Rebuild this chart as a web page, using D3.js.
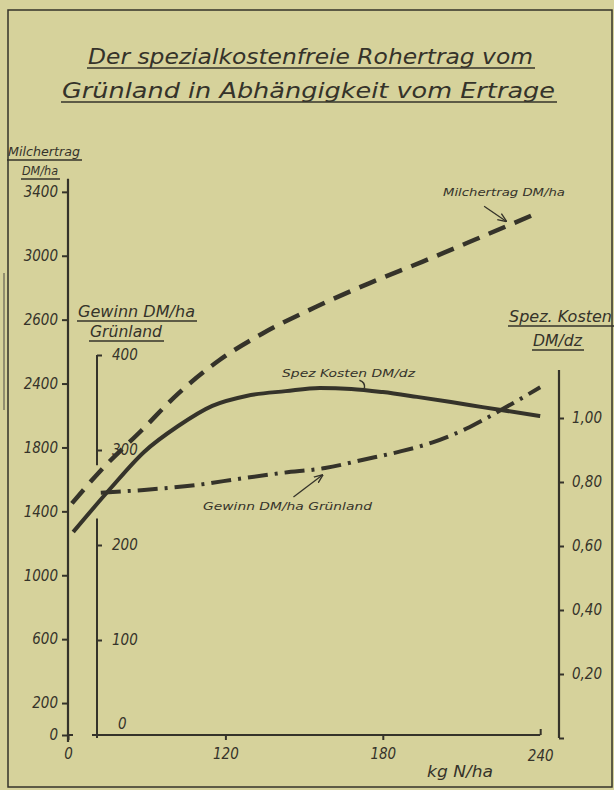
<!DOCTYPE html>
<html>
<head>
<meta charset="utf-8">
<script src="https://cdn.jsdelivr.net/npm/d3@7"></script>
<style>
  body { margin: 0; background: #d6d29b; }
  svg text { font-family: "DejaVu Sans Condensed", "DejaVu Sans", sans-serif; font-style: italic; fill: #35332a; }
</style>
</head>
<body>
<script>
// Axis tick labels as printed on the original (spaced evenly on the sheet)
const nTicks = [0, 120, 180, 240];
const milchTicks = [0, 200, 600, 1000, 1400, 1800, 2400, 2600, 3000, 3400];
const gewinnTicks = [100, 200, 300, 400];
const kostenTicks = [0, 0.2, 0.4, 0.6, 0.8, 1.0];

// Milchertrag DM/ha (dashed, left axis)
const milchN = [3, 25, 56, 84, 115, 134, 154, 175, 195, 215, 240];
const milchValues = [1450, 1656, 1959, 2306, 2472, 2556, 2676, 2829, 2962, 3100, 3275];

// Spez. Kosten DM/dz (solid, right axis)
const kostenN = [4, 32, 58, 84, 110, 128, 143, 156, 168, 180, 193, 206, 218, 240];
const kostenValues = [0.644, 0.778, 0.894, 0.975, 1.038, 1.069, 1.084, 1.094, 1.091, 1.081, 1.066, 1.05, 1.034, 1.006];

// Gewinn DM/ha Grünland (dash-dot, middle axis)
const gewinnN = [25, 58, 97, 126, 142, 158, 173, 186, 199, 213, 225, 240];
const gewinnValues = [255, 258, 263, 270, 276, 281, 290, 298, 308, 324, 342, 366];

const ink = "#35332a";
const W = 614, H = 790;

const svg = d3.select("body").append("svg")
  .attr("width", W)
  .attr("height", H);

// Scales (the printed axes are evenly spaced, so piecewise linear)
const x0 = 68, xStep = 157.4, yBase = 735, yStep = 63.9;
const x = d3.scaleLinear()
  .domain(nTicks)
  .range(nTicks.map((d, i) => x0 + i * xStep));
const yMilch = d3.scaleLinear()
  .domain(milchTicks)
  .range(milchTicks.map((d, i) => yBase - (i === 0 ? 0 : i - 0.5) * yStep));
const yGewinn = d3.scaleLinear().domain([0, 400]).range([yBase, 355]);
const yKosten = d3.scaleLinear().domain([0, 1]).range([738, 418]);

// Frame
svg.append("rect")
  .attr("x", 8).attr("y", 10)
  .attr("width", 604).attr("height", 777)
  .attr("fill", "none").attr("stroke", ink).attr("stroke-width", 1.5);
svg.append("line")
  .attr("x1", 4).attr("x2", 4).attr("y1", 273).attr("y2", 410)
  .attr("stroke", "#7a7760").attr("stroke-width", 1.5);

// Underlined text helper
function label(txt, xPos, yPos, width, size, underline) {
  svg.append("text")
    .attr("x", xPos).attr("y", yPos)
    .attr("font-size", size)
    .attr("textLength", width)
    .attr("lengthAdjust", "spacingAndGlyphs")
    .text(txt);
  if (underline) {
    svg.append("line")
      .attr("x1", xPos - 1).attr("x2", xPos + width + 2)
      .attr("y1", yPos + 4).attr("y2", yPos + 4)
      .attr("stroke", ink).attr("stroke-width", 1.5);
  }
}

// Title
label("Der spezialkostenfreie Rohertrag vom", 88, 64, 445, 22, true);
label("Grünland   in  Abhängigkeit   vom   Ertrage", 62, 98, 493, 22, true);

// Axis titles
label("Milchertrag", 8, 156, 72, 13, true);
label("DM/ha", 22, 175, 36, 13, true);
label("Gewinn DM/ha", 78, 317, 117, 15, true);
label("Grünland", 90, 337, 72, 15, true);
label("Spez. Kosten", 509, 322, 103, 15, true);
label("DM/dz", 533, 346, 49, 15, true);
label("kg N/ha", 427, 777, 66, 15, false);

// Axes
function styleAxis(g, size) {
  g.selectAll(".tick line").attr("stroke", ink).attr("stroke-width", 2);
  g.selectAll(".tick text").attr("font-size", size).attr("fill", ink);
  g.select(".domain").remove();
}

const gLeft = svg.append("g")
  .attr("transform", `translate(${x0},0)`)
  .call(d3.axisLeft(yMilch).tickValues(milchTicks).tickSize(6).tickPadding(4)
    .tickFormat(d3.format("d")));
styleAxis(gLeft, 15);
gLeft.append("line")
  .attr("y1", yMilch(3400) - 13).attr("y2", yBase + 7)
  .attr("stroke", ink).attr("stroke-width", 2.2);
gLeft.append("line")
  .attr("x1", 0).attr("x2", 5).attr("y1", yBase).attr("y2", yBase)
  .attr("stroke", ink).attr("stroke-width", 2);

const midX = 97;
const gMid = svg.append("g")
  .attr("transform", `translate(${midX},0)`)
  .call(d3.axisRight(yGewinn).tickValues(gewinnTicks).tickSize(5).tickPadding(10));
styleAxis(gMid, 15);
[[0, 228], [284, 400]].forEach(([a, b]) => {
  gMid.append("line")
    .attr("y1", yGewinn(a) + (a === 0 ? 3 : 0)).attr("y2", yGewinn(b))
    .attr("stroke", ink).attr("stroke-width", 2);
});
gMid.append("text")
  .attr("x", 21).attr("y", yGewinn(0) - 6)
  .attr("font-size", 15)
  .text("0");

const rightX = 559;
const gRight = svg.append("g")
  .attr("transform", `translate(${rightX},0)`)
  .call(d3.axisRight(yKosten).tickValues(kostenTicks).tickSize(5).tickPadding(8)
    .tickFormat(d => d === 0 ? "" : d.toFixed(2).replace(".", ",")));
styleAxis(gRight, 15);
gRight.append("line")
  .attr("y1", yKosten(0)).attr("y2", 370)
  .attr("stroke", ink).attr("stroke-width", 2.2);

const gBottom = svg.append("g")
  .attr("transform", `translate(0,${yBase})`)
  .call(d3.axisBottom(x).tickValues(nTicks).tickSize(5).tickPadding(8));
styleAxis(gBottom, 15);
gBottom.selectAll(".tick")
  .filter(d => d === 240)
  .select("line").attr("y2", -6);
gBottom.selectAll(".tick")
  .filter(d => d === 240)
  .select("text").attr("y", 15);
gBottom.append("line")
  .attr("x1", 92).attr("x2", x(240))
  .attr("stroke", ink).attr("stroke-width", 2.2);

// Curves
const milch = milchN.map((n, i) => [x(n), yMilch(milchValues[i])]);
const kosten = kostenN.map((n, i) => [x(n), yKosten(kostenValues[i])]);
const gewinn = gewinnN.map((n, i) => [x(n), yGewinn(gewinnValues[i])]);
const line = d3.line().curve(d3.curveMonotoneX);

svg.append("path")
  .attr("d", line(milch))
  .attr("fill", "none").attr("stroke", ink)
  .attr("stroke-width", 4.5)
  .attr("stroke-dasharray", "18,10");

svg.append("path")
  .attr("d", line(kosten))
  .attr("fill", "none").attr("stroke", ink)
  .attr("stroke-width", 4);

svg.append("path")
  .attr("d", line(gewinn))
  .attr("fill", "none").attr("stroke", ink)
  .attr("stroke-width", 4)
  .attr("stroke-dasharray", "20,7,3,7");

// Annotations
svg.append("defs").append("marker")
  .attr("id", "arr")
  .attr("viewBox", "0 0 10 10")
  .attr("refX", 9).attr("refY", 5)
  .attr("markerWidth", 7).attr("markerHeight", 7)
  .attr("orient", "auto")
  .append("path")
  .attr("d", "M0,1 L10,5 L0,9")
  .attr("fill", "none").attr("stroke", ink).attr("stroke-width", 1.5);

label("Milchertrag DM/ha", 443, 196, 122, 10.5, false);
const mTip = [x(227), yMilch(3160) - 9];
svg.append("line")
  .attr("x1", mTip[0] - 22).attr("y1", mTip[1] - 15)
  .attr("x2", mTip[0]).attr("y2", mTip[1])
  .attr("stroke", ink).attr("stroke-width", 1.3)
  .attr("marker-end", "url(#arr)");

label("Spez Kosten DM/dz", 282, 377, 133, 10.5, false);
const kTip = [x(173), yKosten(1.09)];
svg.append("path")
  .attr("d", `M${kTip[0] - 5},${kTip[1] - 9} Q${kTip[0] + 1},${kTip[1] - 7} ${kTip[0]},${kTip[1] - 1}`)
  .attr("fill", "none").attr("stroke", ink).attr("stroke-width", 1.5);

label("Gewinn DM/ha   Grünland", 203, 510, 169, 10.5, false);
const gTip = [x(157), yGewinn(281) + 7];
svg.append("line")
  .attr("x1", gTip[0] - 29).attr("y1", gTip[1] + 22)
  .attr("x2", gTip[0]).attr("y2", gTip[1])
  .attr("stroke", ink).attr("stroke-width", 1.3)
  .attr("marker-end", "url(#arr)");
</script>
</body>
</html>
